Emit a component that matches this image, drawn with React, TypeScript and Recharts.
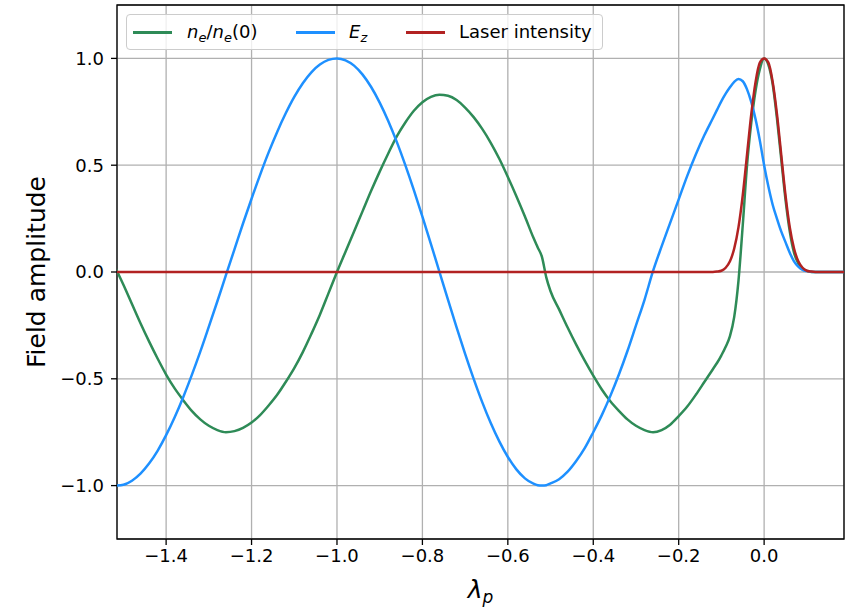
import React from "react"
import {
  LineChart,
  Line,
  XAxis,
  YAxis,
  CartesianGrid,
  ReferenceArea,
  Label,
} from "recharts"

// sample positions along the axis (units of plasma wavelength)
const xs = [
  -1.52, -1.5, -1.48, -1.46, -1.44, -1.42, -1.4, -1.38, -1.36, -1.34,
  -1.32, -1.3, -1.28, -1.26, -1.24, -1.22, -1.2, -1.18, -1.16, -1.14,
  -1.12, -1.1, -1.08, -1.06, -1.04, -1.02, -1.0, -0.98, -0.96, -0.94,
  -0.92, -0.9, -0.88, -0.86, -0.84, -0.82, -0.8, -0.78, -0.76, -0.74,
  -0.72, -0.7, -0.68, -0.66, -0.64, -0.62, -0.6, -0.58, -0.56, -0.54,
  -0.53, -0.52, -0.51, -0.5, -0.48, -0.46, -0.44, -0.42, -0.4, -0.38,
  -0.36, -0.34, -0.32, -0.3, -0.28, -0.26, -0.24, -0.22, -0.2, -0.18,
  -0.16, -0.14, -0.12, -0.11, -0.1, -0.09, -0.08, -0.07, -0.06, -0.05,
  -0.04, -0.03, -0.02, -0.01, 0.0, 0.01, 0.02, 0.03, 0.04, 0.05,
  0.06, 0.07, 0.08, 0.09, 0.1, 0.11, 0.12, 0.14, 0.16, 0.18,
  0.2,
]

// electron density perturbation n_e / n_e(0)
const neRatio = [
  0.025, -0.06, -0.15, -0.24, -0.325, -0.405, -0.48, -0.545, -0.6, -0.65,
  -0.69, -0.72, -0.74, -0.75, -0.745, -0.73, -0.705, -0.67, -0.625, -0.575,
  -0.515, -0.45, -0.375, -0.29, -0.2, -0.1, 0.0, 0.095, 0.19, 0.285,
  0.38, 0.47, 0.555, 0.635, 0.7, 0.755, 0.795, 0.82, 0.83, 0.825,
  0.805, 0.77, 0.725, 0.67, 0.605, 0.53, 0.445, 0.355, 0.26, 0.16,
  0.115, 0.07, -0.025, -0.09, -0.175, -0.26, -0.34, -0.415, -0.485, -0.55,
  -0.605, -0.65, -0.69, -0.72, -0.74, -0.75, -0.74, -0.715, -0.675, -0.63,
  -0.575, -0.515, -0.455, -0.425, -0.39, -0.35, -0.3, -0.21, -0.04, 0.22,
  0.5, 0.7, 0.85, 0.95, 1.0, 0.97, 0.88, 0.72, 0.53, 0.34,
  0.19, 0.09, 0.04, 0.015, 0.005, 0, 0, 0, 0, 0,
  0,
]

// longitudinal wakefield E_z
const ez = [
  -1.0, -0.996, -0.977, -0.944, -0.897, -0.837, -0.764, -0.68, -0.586, -0.483,
  -0.373, -0.256, -0.137, -0.015, 0.106, 0.227, 0.343, 0.455, 0.56, 0.656,
  0.743, 0.82, 0.884, 0.935, 0.971, 0.993, 1.0, 0.991, 0.966, 0.924,
  0.866, 0.793, 0.707, 0.609, 0.5, 0.383, 0.259, 0.131, 0.0, -0.131,
  -0.259, -0.383, -0.5, -0.609, -0.707, -0.793, -0.866, -0.924, -0.966, -0.991,
  -0.998, -1.0, -0.998, -0.99, -0.97, -0.935, -0.885, -0.825, -0.75, -0.67,
  -0.58, -0.48, -0.37, -0.25, -0.13, 0.005, 0.12, 0.23, 0.34, 0.45,
  0.55, 0.64, 0.72, 0.76, 0.8, 0.835, 0.865, 0.89, 0.903, 0.893,
  0.855, 0.795, 0.715, 0.615, 0.5, 0.4, 0.315, 0.25, 0.19, 0.14,
  0.09, 0.05, 0.025, 0.01, 0.004, 0.001, 0, 0, 0, 0,
  0,
]

// normalised laser intensity
const laser = [
  0, 0, 0, 0, 0, 0, 0, 0, 0, 0,
  0, 0, 0, 0, 0, 0, 0, 0, 0, 0,
  0, 0, 0, 0, 0, 0, 0, 0, 0, 0,
  0, 0, 0, 0, 0, 0, 0, 0, 0, 0,
  0, 0, 0, 0, 0, 0, 0, 0, 0, 0,
  0, 0, 0, 0, 0, 0, 0, 0, 0, 0,
  0, 0, 0, 0, 0, 0, 0, 0, 0, 0,
  0, 0, 0, 0.002, 0.006, 0.02, 0.05, 0.11, 0.21, 0.36,
  0.55, 0.74, 0.89, 0.98, 1.0, 0.98, 0.89, 0.74, 0.55, 0.36,
  0.21, 0.11, 0.05, 0.02, 0.006, 0.002, 0, 0, 0, 0,
  0,
]

const xTicks = [-1.4, -1.2, -1.0, -0.8, -0.6, -0.4, -0.2, 0.0]
const yTicks = [-1.0, -0.5, 0.0, 0.5, 1.0]
const xDomain = [-1.515, 0.187]
const yDomain = [-1.25, 1.25]

const GREEN = "#2e8b57"
const BLUE = "#1e90ff"
const RED = "#b22222"
const FONT = "'DejaVu Sans', sans-serif"

const W = 848
const H = 608
const PLOT_LEFT = 117
const PLOT_TOP = 5
const PLOT_RIGHT = 844
const PLOT_BOTTOM = 539

const data = xs.map((x, i) => ({
  x,
  ne: neRatio[i],
  ez: ez[i],
  laser: laser[i],
}))

function fmt(v: number) {
  return v.toFixed(1).replace("-", "\u2212")
}

const tickStyle = { fontSize: 18, fill: "#000", fontFamily: FONT }

function Legend() {
  const sub = { fontSize: 13, verticalAlign: "-4px", lineHeight: 0 } as const
  const lineStyle = (left: number, color: string) => ({
    position: "absolute" as const,
    left,
    top: 16,
    width: 39,
    height: 2.5,
    background: color,
  })
  const textStyle = (left: number) => ({
    position: "absolute" as const,
    left,
    top: 7,
    fontSize: 18,
    lineHeight: "20px",
    whiteSpace: "nowrap" as const,
    color: "#000",
  })
  return (
    <div
      style={{
        position: "absolute",
        left: 126,
        top: 14,
        width: 477,
        height: 36,
        boxSizing: "border-box",
        border: "1px solid #cccccc",
        borderRadius: 4,
        background: "rgba(255,255,255,0.8)",
        fontFamily: FONT,
      }}
    >
      <div style={lineStyle(6, GREEN)} />
      <span style={textStyle(60)}>
        <i>n</i>
        <i style={sub}>e</i>/<i>n</i>
        <i style={sub}>e</i>(0)
      </span>
      <div style={lineStyle(169, BLUE)} />
      <span style={textStyle(222)}>
        <i>E</i>
        <i style={sub}>z</i>
      </span>
      <div style={lineStyle(279, RED)} />
      <span style={textStyle(332)}>Laser intensity</span>
    </div>
  )
}

export default function App() {
  const midY = (PLOT_TOP + PLOT_BOTTOM) / 2
  const midX = (PLOT_LEFT + PLOT_RIGHT) / 2
  return (
    <div style={{ position: "absolute", left: 0, top: 0, width: W, height: H, background: "#fff" }}>
      <LineChart
        width={W}
        height={H}
        data={data}
        margin={{ top: PLOT_TOP, right: W - PLOT_RIGHT, bottom: 0, left: 0 }}
      >
        <CartesianGrid stroke="#b0b0b0" strokeWidth={1.3} />
        <XAxis
          dataKey="x"
          type="number"
          domain={xDomain}
          allowDataOverflow
          ticks={xTicks}
          tickFormatter={fmt}
          tick={tickStyle}
          tickSize={6}
          tickMargin={4}
          tickLine={{ stroke: "#000", strokeWidth: 1.3 }}
          axisLine={false}
          height={H - PLOT_BOTTOM}
        >
          <Label
            content={() => (
              <text
                x={midX}
                y={598}
                textAnchor="middle"
                fontFamily={FONT}
                fontStyle="italic"
                fontSize={25}
                fill="#000"
              >
                λ
                <tspan fontSize={17} dy={5}>
                  p
                </tspan>
              </text>
            )}
          />
        </XAxis>
        <YAxis
          type="number"
          domain={yDomain}
          allowDataOverflow
          ticks={yTicks}
          tickFormatter={fmt}
          tick={tickStyle}
          tickSize={6}
          tickMargin={7}
          tickLine={{ stroke: "#000", strokeWidth: 1.3 }}
          axisLine={false}
          width={PLOT_LEFT}
        >
          <Label
            content={() => (
              <text
                x={36}
                y={midY}
                transform={`rotate(-90 36 ${midY})`}
                textAnchor="middle"
                dominantBaseline="central"
                fontFamily={FONT}
                fontSize={25}
                fill="#000"
              >
                Field amplitude
              </text>
            )}
          />
        </YAxis>
        <Line
          type="monotone"
          dataKey="ne"
          name="ne/ne(0)"
          stroke={GREEN}
          strokeWidth={2.5}
          dot={false}
          isAnimationActive={false}
        />
        <Line
          type="monotone"
          dataKey="ez"
          name="Ez"
          stroke={BLUE}
          strokeWidth={2.5}
          dot={false}
          isAnimationActive={false}
        />
        <Line
          type="monotone"
          dataKey="laser"
          name="Laser intensity"
          stroke={RED}
          strokeWidth={2.5}
          dot={false}
          isAnimationActive={false}
        />
        <ReferenceArea
          x1={xDomain[0]}
          x2={xDomain[1]}
          y1={yDomain[0]}
          y2={yDomain[1]}
          fill="none"
          stroke="#000"
          strokeWidth={1.3}
          ifOverflow="visible"
        />
      </LineChart>
      <Legend />
    </div>
  )
}
